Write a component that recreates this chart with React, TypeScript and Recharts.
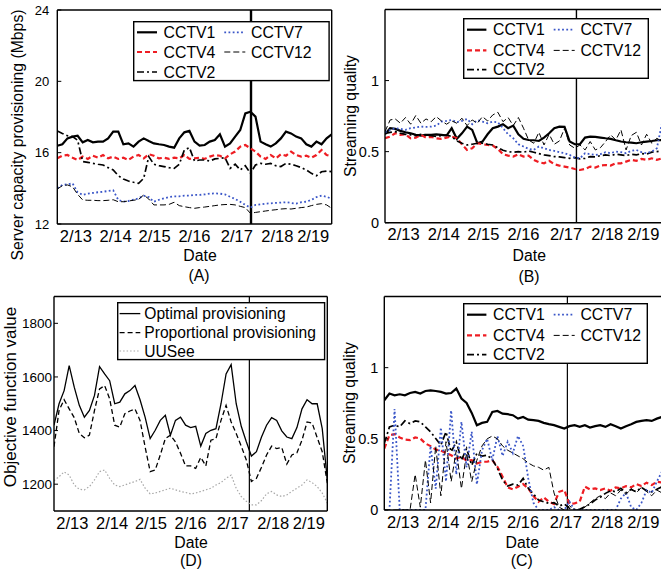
import React from 'react';
import { LineChart, Line, XAxis, YAxis, ReferenceLine } from 'recharts';

const FONT = "'Liberation Sans', Arial, Helvetica, sans-serif";

// time axis in "day of February", one sample every 3 hours
const T_START = 13.125;
const T_STEP = 0.125;
const T_END = 19.875;
const DAY_TICKS = [14, 15, 16, 17, 18, 19];
const DATE_LABELS = ['2/13', '2/14', '2/15', '2/16', '2/17', '2/18', '2/19'];
const DATE_LABEL_POS = [13.58, 14.56, 15.52, 16.5, 17.54, 18.54, 19.42];

// (A) server capacity provisioning, Mbps
const A_CCTV1 = [
  16.39, 16.47, 16.8, 16.9, 16.95, 16.58, 16.71, 16.58, 16.62, 16.62,
  16.8, 17.18, 17.18, 16.47, 16.52, 16.34, 16.62, 16.8, 16.65, 16.52,
  16.47, 16.43, 16.34, 16.28, 16.8, 17.14, 17.22, 16.62, 16.39, 16.43,
  16.62, 16.71, 17.03, 16.34, 16.52, 16.9, 17.27, 18.2, 18.3, 18.02,
  16.62, 16.47, 16.34, 16.52, 16.8, 17.18, 17.08, 16.9, 16.8, 16.47,
  16.34, 16.62, 16.47, 16.8, 17.03,
];
const A_CCTV4 = [
  15.68, 15.83, 15.87, 15.72, 15.59, 15.78, 15.65, 15.83, 15.72, 15.87,
  15.68, 15.78, 15.65, 15.72, 15.59, 15.78, 15.87, 15.68, 15.91, 15.83,
  15.68, 15.72, 15.65, 15.72, 15.68, 15.87, 15.65, 15.68, 15.72, 15.65,
  15.78, 15.87, 15.83, 15.68, 15.91, 16.06, 16.34, 16.43, 16.24, 16.06,
  15.78, 15.65, 15.87, 15.68, 15.91, 15.83, 16.06, 15.87, 15.78, 15.83,
  15.72, 15.87, 16.15, 15.87, 15.78,
];
const A_CCTV2 = [
  17.22, 17.08, 16.95, 16.9, 16.7, 15.5, 15.46, 15.4, 15.35, 15.31,
  15.16, 15.03, 14.71, 14.52, 14.41, 14.34, 14.28, 14.56, 15.78, 15.35,
  15.27, 15.22, 15.16, 15.12, 15.35, 16.15, 16.28, 15.53, 15.59, 15.59,
  15.53, 15.65, 15.68, 15.72, 15.12, 15.35, 15.03, 15.27, 14.84, 15.31,
  15.4, 15.35, 15.4, 15.27, 15.22, 15.4, 15.35, 15.27, 15.16, 15.03,
  14.84, 14.71, 14.93, 14.97, 14.93,
];
const A_CCTV7 = [
  14.0, 14.19, 14.22, 14.28, 13.78, 13.63, 13.7, 13.74, 13.78, 13.81,
  13.85, 13.89, 13.35, 13.25, 13.29, 13.36, 13.44, 13.59, 13.51, 13.25,
  13.36, 13.44, 13.51, 13.55, 13.55, 13.59, 13.59, 13.63, 13.63, 13.66,
  13.7, 13.72, 13.7, 13.66, 13.53, 13.4, 13.25, 13.07, 12.92, 13.07,
  13.1, 13.14, 13.16, 13.18, 13.2, 13.22, 13.18, 13.14, 13.22, 13.25,
  13.35, 13.51, 13.59, 13.53, 13.4,
];
const A_CCTV12 = [
  13.96, 14.15, 14.19, 14.09, 13.66, 13.35, 13.33, 13.33, 13.31, 13.31,
  13.33, 13.36, 13.25, 13.25, 13.29, 13.33, 13.38, 13.63, 13.4, 13.07,
  13.07, 13.07, 13.1, 13.22, 13.03, 12.97, 12.92, 12.88, 12.92, 12.95,
  12.99, 13.03, 13.07, 13.09, 13.1, 13.07, 12.99, 12.92, 12.6, 12.65,
  12.69, 12.73, 12.77, 12.8, 12.84, 12.86, 12.84, 12.88, 12.92, 12.95,
  13.03, 13.1, 13.14, 13.07, 12.88,
];

// (B) streaming quality
const B_CCTV1 = [
  0.622, 0.665, 0.66, 0.646, 0.636, 0.629, 0.618, 0.613, 0.618, 0.618,
  0.622, 0.618, 0.613, 0.665, 0.59, 0.629, 0.676, 0.653, 0.559, 0.571,
  0.622, 0.665, 0.676, 0.693, 0.665, 0.683, 0.622, 0.59, 0.582, 0.58,
  0.575, 0.599, 0.629, 0.665, 0.676, 0.674, 0.571, 0.552, 0.552, 0.599,
  0.606, 0.604, 0.599, 0.594, 0.59, 0.58, 0.571, 0.566, 0.564, 0.559,
  0.566, 0.571, 0.575, 0.58, 0.582,
];
const B_CCTV4 = [
  0.594, 0.606, 0.629, 0.618, 0.622, 0.594, 0.599, 0.618, 0.599, 0.604,
  0.594, 0.59, 0.599, 0.606, 0.594, 0.552, 0.512, 0.524, 0.559, 0.552,
  0.547, 0.543, 0.519, 0.482, 0.472, 0.465, 0.482, 0.465, 0.472, 0.442,
  0.425, 0.418, 0.435, 0.411, 0.402, 0.395, 0.388, 0.378, 0.371, 0.378,
  0.395, 0.388, 0.402, 0.406, 0.402, 0.418, 0.418, 0.43, 0.442, 0.435,
  0.449, 0.442, 0.453, 0.442, 0.453,
];
const B_CCTV2 = [
  0.629, 0.636, 0.641, 0.629, 0.622, 0.618, 0.613, 0.622, 0.618, 0.613,
  0.606, 0.613, 0.618, 0.606, 0.575, 0.559, 0.547, 0.552, 0.559, 0.559,
  0.552, 0.547, 0.528, 0.51, 0.5, 0.496, 0.5, 0.496, 0.505, 0.496,
  0.486, 0.477, 0.472, 0.465, 0.463, 0.458, 0.453, 0.458, 0.449, 0.453,
  0.465, 0.463, 0.472, 0.477, 0.472, 0.482, 0.477, 0.472, 0.482, 0.477,
  0.486, 0.482, 0.496, 0.5, 0.505,
];
const B_CCTV7 = [
  0.636, 0.653, 0.665, 0.66, 0.653, 0.665, 0.67, 0.676, 0.674, 0.676,
  0.683, 0.711, 0.716, 0.723, 0.707, 0.716, 0.73, 0.693, 0.721, 0.711,
  0.7, 0.711, 0.707, 0.665, 0.622, 0.594, 0.552, 0.536, 0.519, 0.512,
  0.536, 0.524, 0.512, 0.505, 0.496, 0.489, 0.477, 0.458, 0.453, 0.489,
  0.482, 0.477, 0.482, 0.496, 0.489, 0.5, 0.496, 0.489, 0.505, 0.512,
  0.496, 0.489, 0.5, 0.524, 0.7,
];
const B_CCTV12 = [
  0.641, 0.723, 0.73, 0.7, 0.74, 0.693, 0.754, 0.7, 0.73, 0.711,
  0.746, 0.716, 0.693, 0.716, 0.7, 0.735, 0.683, 0.723, 0.7, 0.746,
  0.716, 0.758, 0.777, 0.711, 0.74, 0.683, 0.74, 0.665, 0.582, 0.559,
  0.636, 0.547, 0.622, 0.552, 0.575, 0.665, 0.547, 0.524, 0.547, 0.512,
  0.571, 0.512, 0.528, 0.571, 0.618, 0.582, 0.653, 0.512, 0.613, 0.636,
  0.547, 0.622, 0.559, 0.594, 0.571,
];

// (C) streaming quality
const C_CCTV1 = [
  0.771, 0.818, 0.806, 0.813, 0.806, 0.822, 0.83, 0.818, 0.836, 0.841,
  0.836, 0.83, 0.818, 0.822, 0.853, 0.783, 0.752, 0.682, 0.596, 0.612,
  0.619, 0.689, 0.696, 0.677, 0.673, 0.666, 0.642, 0.654, 0.635, 0.631,
  0.626, 0.612, 0.603, 0.596, 0.584, 0.572, 0.589, 0.596, 0.584, 0.596,
  0.579, 0.589, 0.596, 0.584, 0.603, 0.589, 0.572, 0.589, 0.603, 0.619,
  0.626, 0.631, 0.626, 0.642, 0.654,
];
const C_CCTV4 = [
  0.432, 0.526, 0.533, 0.51, 0.495, 0.491, 0.51, 0.502, 0.467, 0.449,
  0.425, 0.416, 0.402, 0.385, 0.362, 0.374, 0.346, 0.35, 0.327, 0.339,
  0.339, 0.35, 0.304, 0.234, 0.159, 0.145, 0.164, 0.182, 0.152, 0.098,
  0.058, 0.089, 0.058, 0.042, 0.128, 0.14, 0.042, 0.047, 0.058, 0.164,
  0.145, 0.152, 0.14, 0.152, 0.136, 0.159, 0.152, 0.168, 0.159, 0.182,
  0.168, 0.192, 0.175, 0.199, 0.192,
];
const C_CCTV2 = [
  0.467, 0.584, 0.596, 0.584, 0.626, 0.607, 0.626, 0.619, 0.584, 0.549,
  0.502, 0.456, 0.549, 0.409, 0.479, 0.35, 0.432, 0.315, 0.397, 0.378,
  0.385, 0.355, 0.292, 0.21, 0.168, 0.182, 0.175, 0.222, 0.152, 0.112,
  0.07, 0.058, 0.047, 0.051, 0.028, 0.042, 0.012, 0.005, 0.005, 0.023,
  0.042, 0.07, 0.089, 0.117, 0.136, 0.128, 0.152, 0.121, 0.145, 0.128,
  0.159, 0.136, 0.128, 0.145, 0.164,
];
const C_CCTV7 = [
  0, 0, 0.71, 0, 0, 0, 0, 0, 0, 0.45,
  0.15, 0.58, 0.2, 0.7, 0.25, 0.62, 0.3, 0.55, 0.18, 0.42,
  0.5, 0.35, 0.52, 0.38, 0.48, 0.4, 0.52, 0.45, 0.22, 0.05,
  0, 0, 0, 0.02, 0, 0, 0.06, 0, 0, 0,
  0, 0, 0, 0, 0, 0, 0.08, 0.12, 0.02, 0,
  0.05, 0.14, 0.12, 0.2, 0.27,
];
const C_CCTV12 = [
  0, 0, 0, 0, 0, 0, 0.25, 0.02, 0.35, 0.05,
  0.45, 0.1, 0.48, 0.2, 0.42, 0.15, 0.4, 0.2, 0.35, 0.45,
  0.5, 0.52, 0.5, 0.45, 0.42, 0.4, 0.38, 0.36, 0.33, 0.31,
  0.3, 0.28, 0.3, 0.12, 0.02, 0, 0.03, 0, 0, 0.02,
  0.05, 0.08, 0.1, 0.08, 0.12, 0.1, 0.14, 0.11, 0.15, 0.12,
  0.16, 0.13, 0.1, 0.14, 0.12,
];

// (D) objective function value
const D_OPTIMAL = [
  1420, 1500, 1549, 1642, 1562, 1494, 1450, 1475, 1531, 1638,
  1611, 1586, 1500, 1506, 1537, 1549, 1568, 1515, 1450, 1370,
  1401, 1438, 1457, 1383, 1438, 1450, 1420, 1411, 1416, 1342,
  1389, 1401, 1407, 1500, 1611, 1646, 1500, 1416, 1358, 1305,
  1321, 1376, 1420, 1448, 1438, 1399, 1376, 1370, 1411, 1481,
  1515, 1500, 1500, 1407, 1216,
];
const D_PROPORTIONAL = [
  1340, 1475, 1515, 1481, 1448, 1389, 1373, 1383, 1475, 1555,
  1568, 1518, 1420, 1413, 1463, 1473, 1481, 1438, 1339, 1247,
  1253, 1309, 1370, 1383, 1358, 1315, 1268, 1268, 1259, 1300,
  1268, 1364, 1370, 1438, 1494, 1432, 1389, 1342, 1290, 1210,
  1222, 1263, 1309, 1342, 1333, 1337, 1275, 1309, 1317, 1364,
  1432, 1428, 1374, 1321, 1204,
];
const D_UUSEE = [
  1213, 1228, 1246, 1234, 1197, 1181, 1179, 1191, 1216, 1247,
  1253, 1222, 1197, 1191, 1197, 1204, 1210, 1218, 1185, 1164,
  1167, 1173, 1179, 1185, 1179, 1173, 1169, 1164, 1167, 1173,
  1179, 1185, 1197, 1206, 1222, 1234, 1185, 1154, 1136, 1123,
  1123, 1139, 1164, 1173, 1160, 1154, 1160, 1173, 1185, 1197,
  1216, 1206, 1191, 1167, 1130,
];

// vertical marker line of each panel
const MARK_A = 17.89;
const MARK_B = 17.79;
const MARK_C = 17.575;
const MARK_D = 17.95;

type SeriesStyle = { key: string; name: string; color: string; width: number; dash?: string };

const CCTV_STYLES: SeriesStyle[] = [
  { key: 'CCTV1', name: 'CCTV1', color: '#000', width: 2.2 },
  { key: 'CCTV4', name: 'CCTV4', color: '#ee1d23', width: 2.2, dash: '5 3' },
  { key: 'CCTV2', name: 'CCTV2', color: '#000', width: 1.7, dash: '7 3 2 3' },
  { key: 'CCTV7', name: 'CCTV7', color: '#3a56c8', width: 1.8, dash: '1.8 2.4' },
  { key: 'CCTV12', name: 'CCTV12', color: '#000', width: 1, dash: '6 3' },
];
const CCTV_SLOTS: Record<string, [number, number]> = {
  CCTV1: [0, 0], CCTV4: [0, 1], CCTV2: [0, 2], CCTV7: [1, 0], CCTV12: [1, 1],
};

const OBJ_STYLES: SeriesStyle[] = [
  { key: 'optimal', name: 'Optimal provisioning', color: '#000', width: 1.3 },
  { key: 'proportional', name: 'Proportional provisioning', color: '#000', width: 1.3, dash: '5 3' },
  { key: 'uusee', name: 'UUSee', color: '#a8a8a8', width: 1.2, dash: '1.5 2' },
];
const OBJ_SLOTS: Record<string, [number, number]> = {
  optimal: [0, 0], proportional: [0, 1], uusee: [0, 2],
};

const buildRows = (series: Record<string, number[]>) => {
  const keys = Object.keys(series);
  return series[keys[0]].map((_, i) => {
    const row: Record<string, number> = { t: T_START + i * T_STEP };
    keys.forEach((k) => { row[k] = series[k][i]; });
    return row;
  });
};

const rowsA = buildRows({ CCTV1: A_CCTV1, CCTV4: A_CCTV4, CCTV2: A_CCTV2, CCTV7: A_CCTV7, CCTV12: A_CCTV12 });
const rowsB = buildRows({ CCTV1: B_CCTV1, CCTV4: B_CCTV4, CCTV2: B_CCTV2, CCTV7: B_CCTV7, CCTV12: B_CCTV12 });
const rowsC = buildRows({ CCTV1: C_CCTV1, CCTV4: C_CCTV4, CCTV2: C_CCTV2, CCTV7: C_CCTV7, CCTV12: C_CCTV12 });
const rowsD = buildRows({ optimal: D_OPTIMAL, proportional: D_PROPORTIONAL, uusee: D_UUSEE });

const AXIS_LINE = { stroke: '#000', strokeWidth: 1.4 };
const TICK_LINE = { stroke: '#000', strokeWidth: 1 };

interface PanelProps {
  left: number; top: number; width: number; height: number;
  margin: { top: number; right: number; bottom: number; left: number };
  rows: Record<string, number>[];
  styles: SeriesStyle[];
  yDomain: [number, number];
  yTicks: number[];
  yFont: number;
  yGap: number;
  mark: number;
  markWidth: number;
}

function Panel(p: PanelProps) {
  return (
    <div style={{ position: 'absolute', left: p.left, top: p.top }}>
      <LineChart width={p.width} height={p.height} data={p.rows} margin={p.margin}>
        <XAxis dataKey="t" type="number" domain={[T_START, T_END]} allowDataOverflow
          ticks={DAY_TICKS} interval={0} tick={false} tickSize={-4} height={1}
          axisLine={AXIS_LINE} tickLine={TICK_LINE} />
        <XAxis xAxisId="lbl" dataKey="t" type="number" domain={[T_START, T_END]} allowDataOverflow
          ticks={DATE_LABEL_POS} interval={0} tickLine={false} axisLine={false}
          tickSize={3} tickMargin={2} height={1}
          tick={{ fill: '#000', fontSize: 16.5 }}
          tickFormatter={(v: number) => DATE_LABELS[DATE_LABEL_POS.indexOf(v)] ?? ''} />
        <XAxis xAxisId="top" orientation="top" dataKey="t" type="number" domain={[T_START, T_END]} allowDataOverflow
          ticks={DAY_TICKS} interval={0} tick={false} tickSize={-4} height={1}
          axisLine={AXIS_LINE} tickLine={TICK_LINE} />
        <YAxis type="number" domain={p.yDomain} allowDataOverflow ticks={p.yTicks} interval={0}
          width={1} tickSize={-4} tickMargin={4 + p.yGap}
          tick={{ fill: '#000', fontSize: p.yFont }}
          axisLine={AXIS_LINE} tickLine={TICK_LINE} />
        <YAxis yAxisId="r" orientation="right" type="number" domain={p.yDomain} allowDataOverflow
          ticks={p.yTicks} interval={0} tick={false} width={1} tickSize={-4}
          axisLine={AXIS_LINE} tickLine={TICK_LINE} />
        <ReferenceLine x={p.mark} stroke="#000" strokeWidth={p.markWidth} />
        {p.styles.map((s) => (
          <Line key={s.key} type="linear" dataKey={s.key} name={s.name} stroke={s.color}
            strokeWidth={s.width} strokeDasharray={s.dash} dot={false} activeDot={false}
            isAnimationActive={false} />
        ))}
      </LineChart>
    </div>
  );
}

interface LegendLayout {
  left: number; top: number; width: number; height: number;
  rows: number[];
  cols: { x1: number; x2: number; tx: number }[];
  font: number;
}

function LegendBox({ box, styles, slots }: { box: LegendLayout; styles: SeriesStyle[]; slots: Record<string, [number, number]> }) {
  return (
    <svg width={box.width} height={box.height}
      style={{ position: 'absolute', left: box.left, top: box.top, overflow: 'visible' }}>
      <rect x={0.7} y={0.7} width={box.width - 1.4} height={box.height - 1.4}
        fill="#fff" stroke="#000" strokeWidth={1.4} />
      {styles.map((s) => {
        const [col, row] = slots[s.key];
        const c = box.cols[col];
        const y = box.rows[row];
        return (
          <g key={s.key}>
            <line x1={c.x1} x2={c.x2} y1={y} y2={y} stroke={s.color}
              strokeWidth={s.width} strokeDasharray={s.dash} />
            <text x={c.tx} y={y} dominantBaseline="central" fontSize={box.font}
              fill="#000" fontFamily={FONT}>{s.name}</text>
          </g>
        );
      })}
    </svg>
  );
}

function Caption({ x, y, text, size = 15.5, vertical = false }: { x: number; y: number; text: string; size?: number; vertical?: boolean }) {
  return (
    <div style={{
      position: 'absolute', left: x, top: y, fontSize: size, lineHeight: 1, whiteSpace: 'nowrap',
      transform: `translate(-50%, -50%)${vertical ? ' rotate(-90deg)' : ''}`,
    }}>{text}</div>
  );
}

const LEGEND_A: LegendLayout = {
  left: 132.7, top: 20.7, width: 196.8, height: 60.3, rows: [11.3, 31, 51], font: 15.8,
  cols: [{ x1: 4, x2: 24, tx: 30.6 }, { x1: 91.3, x2: 112.3, tx: 118 }],
};
const LEGEND_B: LegendLayout = {
  left: 463.3, top: 18.3, width: 186, height: 61, rows: [11.7, 32.4, 51.7], font: 15.8,
  cols: [{ x1: 4, x2: 23.4, tx: 30 }, { x1: 90.7, x2: 111.7, tx: 117.4 }],
};
const LEGEND_C: LegendLayout = {
  left: 463.3, top: 303.3, width: 185, height: 61, rows: [11.7, 32.4, 51.7], font: 15.8,
  cols: [{ x1: 4, x2: 23.4, tx: 30 }, { x1: 90.7, x2: 111.7, tx: 117.4 }],
};
const LEGEND_D: LegendLayout = {
  left: 116.7, top: 301.7, width: 208.3, height: 58.3, rows: [11.6, 30.6, 49], font: 15.6,
  cols: [{ x1: 2.6, x2: 23.3, tx: 27.3 }],
};

export default function App() {
  return (
    <div style={{
      position: 'absolute', left: 0, top: 0, width: 661, height: 572, overflow: 'hidden',
      background: '#fff', fontFamily: FONT, color: '#000',
    }}>
      <Panel left={0} top={0} width={340} height={290}
        margin={{ top: 9, right: 7.3, bottom: 64, left: 56.3 }}
        rows={rowsA} styles={CCTV_STYLES} yDomain={[12, 24]} yTicks={[12, 16, 20, 24]}
        yFont={13} yGap={8} mark={MARK_A} markWidth={2.4} />
      <Panel left={340} top={0} width={330} height={290}
        margin={{ top: 8.5, right: 7, bottom: 65.3, left: 44 }}
        rows={rowsB} styles={CCTV_STYLES} yDomain={[0, 1.5]} yTicks={[0, 0.5, 1]}
        yFont={14.5} yGap={6} mark={MARK_B} markWidth={1.4} />
      <Panel left={0} top={285} width={340} height={287}
        margin={{ top: 10.5, right: 11.7, bottom: 59, left: 53 }}
        rows={rowsD} styles={OBJ_STYLES} yDomain={[1100, 1900]} yTicks={[1200, 1400, 1600, 1800]}
        yFont={13.5} yGap={2} mark={MARK_D} markWidth={1.2} />
      <Panel left={340} top={285} width={330} height={287}
        margin={{ top: 10.5, right: 7, bottom: 60, left: 43.3 }}
        rows={rowsC} styles={CCTV_STYLES} yDomain={[0, 1.5]} yTicks={[0, 0.5, 1]}
        yFont={14.5} yGap={6} mark={MARK_C} markWidth={1.2} />

      <LegendBox box={LEGEND_A} styles={CCTV_STYLES} slots={CCTV_SLOTS} />
      <LegendBox box={LEGEND_B} styles={CCTV_STYLES} slots={CCTV_SLOTS} />
      <LegendBox box={LEGEND_C} styles={CCTV_STYLES} slots={CCTV_SLOTS} />
      <LegendBox box={LEGEND_D} styles={OBJ_STYLES} slots={OBJ_SLOTS} />

      <Caption x={17.5} y={135} text="Server capacity provisioning (Mbps)" size={15.8} vertical />
      <Caption x={200} y={256} text="Date" size={15.8} />
      <Caption x={199} y={276} text="(A)" size={15.8} />

      <Caption x={350.5} y={116} text="Streaming quality" size={15.8} vertical />
      <Caption x={529.3} y={256} text="Date" size={15.8} />
      <Caption x={529} y={277} text="(B)" size={15.8} />

      <Caption x={9.5} y={396.5} text="Objective function value" size={17} vertical />
      <Caption x={191} y={543} text="Date" size={15.8} />
      <Caption x={191} y={561} text="(D)" size={15.8} />

      <Caption x={350} y={402.5} text="Streaming quality" size={15.8} vertical />
      <Caption x={522.3} y={542.7} text="Date" size={15.8} />
      <Caption x={521.7} y={561} text="(C)" size={15.8} />
    </div>
  );
}
